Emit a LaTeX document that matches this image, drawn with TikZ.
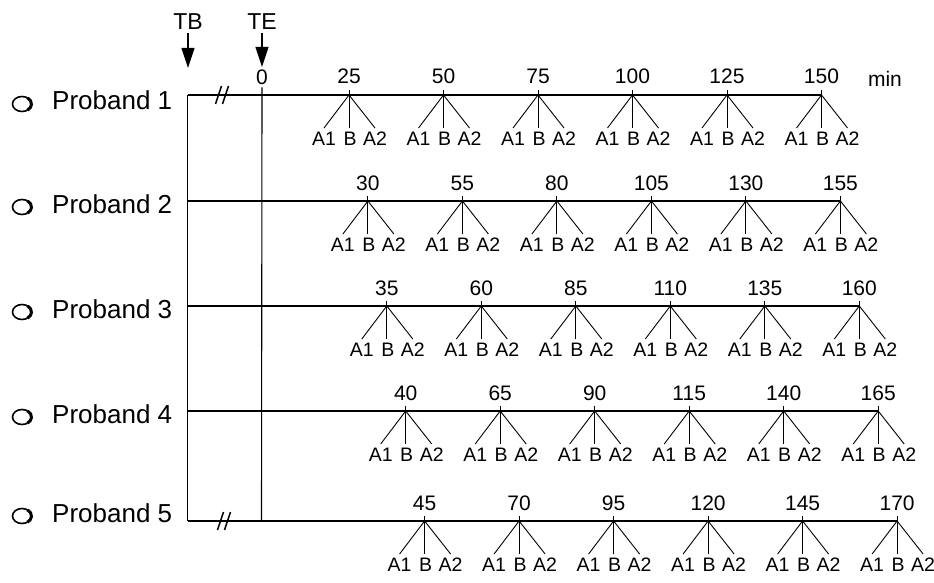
\documentclass[tikz,border=0pt]{standalone}
\usepackage{fontspec}
\setmainfont{Liberation Sans}
\usetikzlibrary{arrows.meta}

\begin{document}
\begin{tikzpicture}[x=1pt, y=-1pt, >={Triangle[length=20pt,width=13pt]},
  thin line/.style={line width=1.1pt},
  marker/.style={inner sep=0pt, anchor=base, font=\fontsize{23}{26}\selectfont},
  num/.style={inner sep=0pt, anchor=base, font=\fontsize{21}{24}\selectfont},
  lbl/.style={inner sep=0pt, anchor=north, font=\fontsize{19.5}{22}\selectfont},
  prb/.style={inner sep=0pt, anchor=base west, font=\fontsize{26}{29}\selectfont}]
  \useasboundingbox (0,0) rectangle (934,583);
  % TB and TE markers
  \node[marker] (TB) at (188,30) {TB};
  \node[marker] (TE) at (262,30) {TE};
  \coordinate (tbtop) at ([yshift=-3pt]TB.south);
  \coordinate (tetop) at ([yshift=-3pt]TE.south);
  \coordinate (tbtip) at (188,68);
  \coordinate (tetip) at (262,67);
  \draw[->, thin line] (tbtop) -- (tbtip);
  \draw[->, thin line] (tetop) -- (tetip);
  \node[num] (zero) at (262,85) {0};
  \node[num] (min) at (885,87) {min};
  % Start lines
  \coordinate (tb1) at (187.5,95);
  \coordinate (tb5) at (187.5,521);
  \coordinate (te5) at (261.5,521);
  \draw[thin line] (tb1) -- (tb5);
  \draw[thin line] ([yshift=-2pt]zero.south) -- (te5);
  % Probands
  \foreach \b/\c [count=\i] in {110/104, 213/207, 318/312, 423/417, 522/516} {
    \node[prb] (p\i) at (52,\b) {Proband \i};
    \draw[line width=1.6pt] (22,\c) ellipse (9.5 and 7.5);
    \draw[line width=3pt] (22,\c) ++(-55:9.5 and 7.5) arc[start angle=-55, end angle=55, x radius=9.5, y radius=7.5];
  }
  % Time lines with samples
  \foreach \y [count=\i] in {95,201,306,411,521} {
    \pgfmathtruncatemacro{\last}{145+5*\i}
    \draw[thin line] (187.5,\y) -- ({254.5+3.78*\last},\y) coordinate (end\i);
    \foreach \k in {0,...,5} {
      \pgfmathtruncatemacro{\t}{20+5*\i+25*\k}
      \coordinate (t\t) at ({254.5+3.78*\t},\y);
      \node[num] (n\t) at ([yshift=11pt]t\t) {\t};
      \node[lbl] (a\t) at ([xshift=-25pt,yshift=-37pt]t\t) {A1};
      \node[lbl] (b\t) at ([xshift=1pt,yshift=-37pt]t\t) {B};
      \node[lbl] (c\t) at ([xshift=26pt,yshift=-37pt]t\t) {A2};
      \draw[line width=0.9pt] ([yshift=5pt]t\t) -- ([yshift=4pt]t\t |- b\t.north);
      \draw[line width=0.9pt] (t\t) -- ([yshift=4pt]a\t.north);
      \draw[line width=0.9pt] (t\t) -- ([yshift=4pt]c\t.north);
    }
  }
  % Breaks
  \foreach \x/\y in {222/95, 224/521} {
    \draw[line width=1.5pt] (\x-6.5,\y+9) -- (\x-0.5,\y-9);
    \draw[line width=1.5pt] (\x+0.5,\y+9) -- (\x+6.5,\y-9);
  }
\end{tikzpicture}
\end{document}
